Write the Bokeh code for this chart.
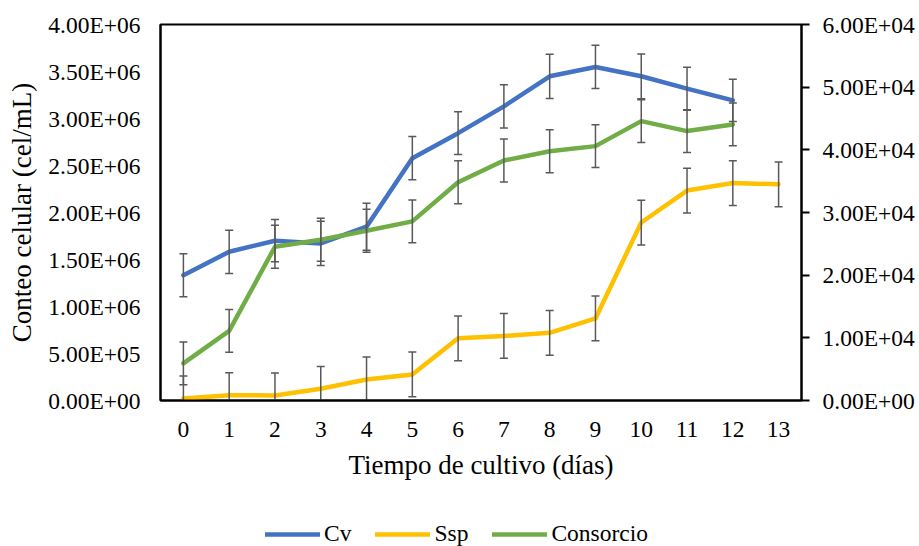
from bokeh.plotting import figure
from bokeh.layouts import column
from bokeh.models import Range1d, LinearAxis, FixedTicker, Legend, LegendItem, ColumnDataSource
from bokeh.embed import file_html
from bokeh.resources import INLINE

# ---- data ----
days_cv = [0, 1, 2, 3, 4, 5, 6, 7, 8, 9, 10, 11, 12]
cv = [1.333e6, 1.582e6, 1.700e6, 1.671e6, 1.849e6, 2.578e6, 2.844e6,
      3.129e6, 3.449e6, 3.548e6, 3.449e6, 3.317e6, 3.193e6]
cv_err = [0.228e6, 0.230e6, 0.225e6, 0.235e6, 0.250e6, 0.230e6, 0.228e6,
          0.230e6, 0.235e6, 0.230e6, 0.238e6, 0.228e6, 0.225e6]

days_ssp = [0, 1, 2, 3, 4, 5, 6, 7, 8, 9, 10, 11, 12, 13]
ssp = [320, 850, 800, 1870, 3360, 4160, 9920, 10300, 10800, 13100,
       28400, 33500, 34700, 34500]   # right axis
ssp_err = [3570, 3570, 3570, 3570, 3570, 3570, 3570, 3570, 3570, 3570,
           3570, 3570, 3570, 3570]

days_con = [0, 1, 2, 3, 4, 5, 6, 7, 8, 9, 10, 11, 12]
con = [0.395e6, 0.740e6, 1.636e6, 1.710e6, 1.806e6, 1.906e6, 2.322e6,
       2.553e6, 2.652e6, 2.706e6, 2.972e6, 2.866e6, 2.937e6]
con_err = [0.228e6, 0.228e6, 0.228e6, 0.228e6, 0.228e6, 0.228e6, 0.228e6,
           0.228e6, 0.228e6, 0.228e6, 0.228e6, 0.228e6, 0.228e6]

left_ticks = [0, 500000, 1000000, 1500000, 2000000, 2500000, 3000000, 3500000, 4000000]
right_ticks = [0, 10000, 20000, 30000, 40000, 50000, 60000]
x_ticks = [0, 1, 2, 3, 4, 5, 6, 7, 8, 9, 10, 11, 12, 13]

series_names = ["Cv", "Ssp", "Consorcio"]
colors = ["#4472C4", "#FFC000", "#70AD47"]

FONT = "Liberation Serif"
TICK_FS = "23.5px"
TITLE_FS = "27px"
ERR_COLOR = "#595959"
LW = 4.5

p = figure(width=919, height=496, output_backend="svg", toolbar_location=None,
           x_range=Range1d(-0.5, 13.5), y_range=Range1d(0, 4e6),
           min_border_left=160, min_border_right=118, min_border_top=24,
           min_border_bottom=96)
p.extra_y_ranges = {"right": Range1d(0, 6e4)}
p.xgrid.visible = False
p.ygrid.visible = False
p.outline_line_color = "black"
p.outline_line_width = 2
p.background_fill_color = "white"
p.border_fill_color = "white"

# left axis
ya = p.yaxis[0]
ya.ticker = FixedTicker(ticks=left_ticks)
ya.major_label_overrides = {t: f"{t:.2E}" for t in left_ticks}
ya.minor_tick_line_color = None
ya.major_tick_line_color = None
ya.major_tick_out = 0
ya.major_tick_in = 0
ya.major_label_standoff = 20
ya.axis_line_color = "black"
ya.axis_line_width = 2
ya.major_label_text_font = FONT
ya.major_label_text_font_size = TICK_FS
ya.major_label_text_color = "black"
ya.axis_label = "Conteo celular (cel/mL)"
ya.axis_label_text_font = FONT
ya.axis_label_text_font_size = TITLE_FS
ya.axis_label_text_font_style = "normal"
ya.axis_label_text_color = "black"
ya.axis_label_standoff = 8

# right axis
ra = LinearAxis(y_range_name="right")
ra.ticker = FixedTicker(ticks=right_ticks)
ra.major_label_overrides = {t: f"{t:.2E}" for t in right_ticks}
ra.minor_tick_line_color = None
ra.major_tick_line_color = "black"
ra.major_tick_line_width = 2
ra.major_tick_out = 8
ra.major_tick_in = 0
ra.major_label_standoff = 13
ra.axis_line_color = "black"
ra.axis_line_width = 2
ra.major_label_text_font = FONT
ra.major_label_text_font_size = TICK_FS
ra.major_label_text_color = "black"
p.add_layout(ra, "right")

# x axis
xa = p.xaxis[0]
xa.ticker = FixedTicker(ticks=x_ticks)
xa.minor_tick_line_color = None
xa.major_tick_line_color = None
xa.major_tick_out = 0
xa.major_tick_in = 0
xa.major_label_standoff = 21
xa.axis_line_color = "black"
xa.axis_line_width = 2
xa.major_label_text_font = FONT
xa.major_label_text_font_size = TICK_FS
xa.major_label_text_color = "black"
xa.axis_label = "Tiempo de cultivo (días)"
xa.axis_label_text_font = FONT
xa.axis_label_text_font_size = TITLE_FS
xa.axis_label_text_font_style = "normal"
xa.axis_label_text_color = "black"
xa.axis_label_standoff = 10

# lines
p.line(days_cv, cv, line_color=colors[0], line_width=LW, line_cap="round", line_join="round")
p.line(days_ssp, ssp, line_color=colors[1], line_width=LW, line_cap="round",
       line_join="round", y_range_name="right")
p.line(days_con, con, line_color=colors[2], line_width=LW, line_cap="round", line_join="round")

# error bars
def errbars(xs, ys, es, rng="default"):
    lo = [y - e for y, e in zip(ys, es)]
    hi = [y + e for y, e in zip(ys, es)]
    src = ColumnDataSource(dict(x=xs, lo=lo, hi=hi))
    p.segment(x0="x", y0="lo", x1="x", y1="hi", source=src, line_color=ERR_COLOR,
              line_width=1.5, y_range_name=rng)
    p.scatter(x="x", y="lo", source=src, marker="dash", size=8, line_color=ERR_COLOR,
              line_width=1.5, y_range_name=rng)
    p.scatter(x="x", y="hi", source=src, marker="dash", size=8, line_color=ERR_COLOR,
              line_width=1.5, y_range_name=rng)

errbars(days_cv, cv, cv_err)
errbars(days_ssp, ssp, ssp_err, "right")
errbars(days_con, con, con_err)

# legend strip below the chart (series lines drawn there fall outside its 0..1 range,
# so only the legend glyphs are visible)
pl = figure(width=919, height=50, output_backend="svg", toolbar_location=None,
            x_range=Range1d(0, 1), y_range=Range1d(0, 1),
            x_axis_type=None, y_axis_type=None, min_border=0)
pl.outline_line_color = None
pl.xgrid.visible = False
pl.ygrid.visible = False
pl.border_fill_color = "white"
items = []
for name, col, xs, ys in zip(series_names, colors, [days_cv, days_ssp, days_con], [cv, ssp, con]):
    r = pl.line(xs, ys, line_color=col, line_width=LW, line_cap="round")
    items.append(LegendItem(label=name, renderers=[r]))
legend = Legend(items=items, orientation="horizontal", location=(105, -1))
legend.glyph_width = 55
legend.glyph_height = 20
legend.label_standoff = 4
legend.spacing = 24
legend.padding = 0
legend.margin = 0
legend.border_line_color = None
legend.background_fill_alpha = 0
legend.label_text_font = FONT
legend.label_text_font_size = TICK_FS
legend.label_text_color = "black"
pl.add_layout(legend, "center")

layout = column(p, pl, spacing=0)
open("out.html", "w").write(file_html(layout, INLINE))
